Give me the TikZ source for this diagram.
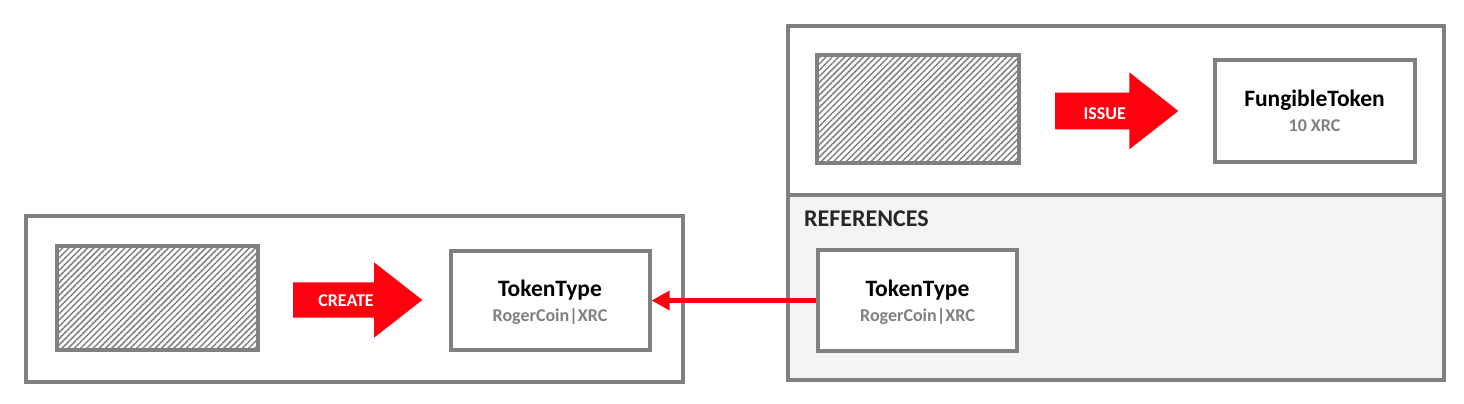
\documentclass[tikz,border=0pt]{standalone}
\usepackage{fontspec}
\setmainfont{Carlito}
\usetikzlibrary{arrows.meta,patterns.meta}
\definecolor{linegray}{RGB}{128,128,128}
\definecolor{tokred}{RGB}{255,0,14}
\definecolor{refgray}{RGB}{244,244,244}
\definecolor{subgray}{RGB}{128,128,128}
\definecolor{headgray}{RGB}{38,38,38}
\begin{document}
\begin{tikzpicture}[x=1pt,y=-1pt,
  framebox/.style={shape=rectangle, draw=linegray, line width=4pt, inner sep=0pt},
  hatchbox/.style={framebox, pattern={Lines[angle=45,distance=4.4pt,line width=1.5pt]}, pattern color=linegray},
  tokenbox/.style={framebox, fill=white, align=center, font=\bfseries\fontsize{23.5}{25}\selectfont},
  blocktext/.style={text=white, anchor=base, inner sep=0pt, font=\bfseries\fontsize{18}{18}\selectfont},
  refarrow/.style={-{Triangle[length=18pt,width=18.5pt]}, line width=4.8pt, draw=tokred}]
\useasboundingbox (0,0) rectangle (1464,404);
% frames
\node[framebox, minimum width=657.5pt, minimum height=165.7pt] (leftframe) at (354.25,299.15) {};
\node[framebox, minimum width=656pt, minimum height=169pt] (issuecell) at (1116,110.8) {};
\node[framebox, fill=refgray, minimum width=656pt, minimum height=184.2pt] (refcell) at (1116,287.4) {};
\node[anchor=base west, inner sep=0pt, text=headgray, font=\bfseries\fontsize{24}{24}\selectfont] (reflabel) at (804,226.7) {REFERENCES};
% hatched blocks
\node[hatchbox, minimum width=201pt, minimum height=104pt] (hatchleft) at (157,298) {};
\node[hatchbox, minimum width=202.5pt, minimum height=107pt] (hatchright) at (917.75,109) {};
% token boxes
\node[tokenbox, minimum width=199pt, minimum height=99pt] (token) at (550,300) {\rule{0pt}{20.5pt}TokenType\\{\fontsize{18}{18}\selectfont\color{subgray}RogerCoin|XRC}};
\node[tokenbox, minimum width=199pt, minimum height=101pt] (reftoken) at (917.5,300.5) {\rule{0pt}{20.5pt}TokenType\\{\fontsize{18}{18}\selectfont\color{subgray}RogerCoin|XRC}};
\node[tokenbox, minimum width=200pt, minimum height=102.3pt] (fungible) at (1314.5,110.85) {FungibleToken\\{\fontsize{18}{18}\selectfont\color{subgray}10 XRC}};
% block arrows
\fill[tokred] (293,282.3) -- (374,282.3) -- (374,262.3) -- (422.3,300) -- (374,337.7) -- (374,317.7) -- (293,317.7) -- cycle;
\node[blocktext] (create) at (346,306.7) {CREATE};
\fill[tokred] (1055,92.7) -- (1129.3,92.7) -- (1129.3,72.3) -- (1178.3,111) -- (1129.3,149.3) -- (1129.3,129.3) -- (1055,129.3) -- cycle;
\node[blocktext] (issue) at (1104.7,119) {ISSUE};
% reference
\draw[refarrow] (reftoken.west) -- (reftoken.west -| token.east);
\end{tikzpicture}
\end{document}
